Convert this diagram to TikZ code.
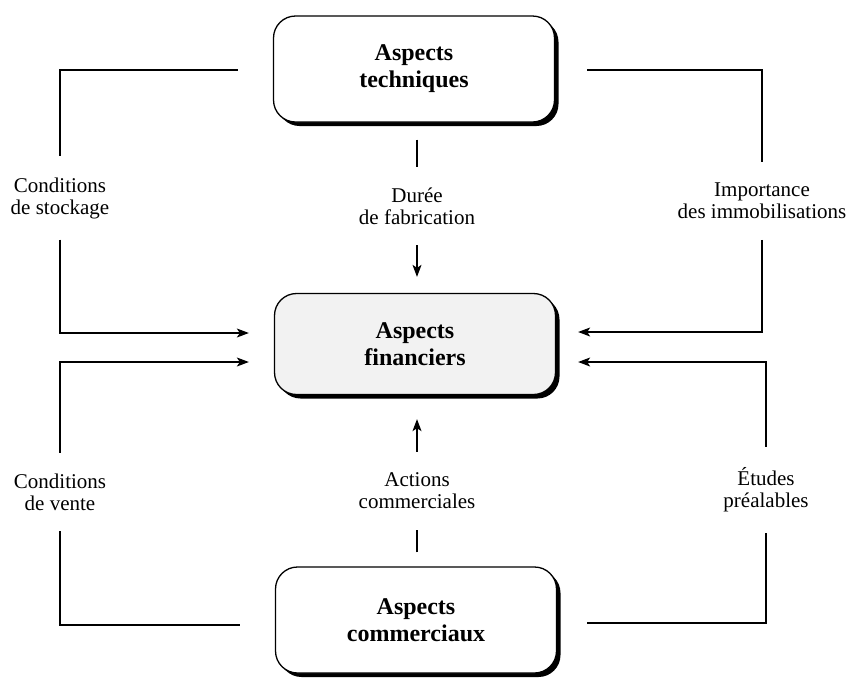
\documentclass[tikz,border=0pt]{standalone}
\usepackage{fontspec}
\setmainfont{Liberation Serif}
\usetikzlibrary{arrows.meta,shadows,calc}

\tikzset{
  aspect/.style={draw=black, line width=1.3pt, rounded corners=22pt, fill=white,
    minimum width=281pt, minimum height=106pt, align=center,
    font=\bfseries\fontsize{24}{27}\selectfont,
    drop shadow={shadow xshift=4pt, shadow yshift=-4pt, fill=black, opacity=1}},
  finbox/.style={aspect, fill=black!5},
  lbl/.style={align=center, inner sep=0pt, outer sep=21pt,
    font=\fontsize{21}{22}\selectfont},
  link/.style={line width=1.1pt},
  flow/.style={link, -{Stealth[length=12pt,width=9pt,inset=3pt]}}
}

\begin{document}
\begin{tikzpicture}[x=1pt, y=-1pt]
\useasboundingbox (0,0) rectangle (853,678);

% the three blocks
\node[aspect] (tech) at (414,69) {Aspects\\techniques};
\node[finbox, minimum height=101pt] (fin) at (415,344) {Aspects\\financiers};
\node[aspect] (com) at (416,620) {Aspects\\commerciaux};

% labels on the links
\node[lbl] (cs)  at (60,198)  {Conditions\\de stockage};
\node[lbl] (df)  at (417,206) {Durée\\de fabrication};
\node[lbl] (imm) at (762,201) {Importance\\des immobilisations};
\node[lbl] (cv)  at (60,492)  {Conditions\\de vente};
\node[lbl] (ac)  at (417,491) {Actions\\commerciales};
\node[lbl] (et)  at (766,490) {Études\\préalables};

% technical side
\draw[link] ($(tech.west)+(-35,1)$) -| (cs.north);
\draw[flow] (cs.south) |- ($(fin.west)+(-25,-11)$);
\draw[link] ($(tech.east)+(32,1)$) -| (imm.north);
\draw[flow] (imm.south) |- ($(fin.east)+(22,-12)$);
\draw[link, shorten <=17pt] (tech.south -| df.north) -- (df.north);
\draw[flow, shorten >=16pt] (df.south) -- (df.south |- fin.north);

% commercial side
\draw[flow] (cv.north) |- ($(fin.west)+(-25,18)$);
\draw[link] ($(com.west)+(-35,5)$) -| (cv.south);
\draw[flow] (et.north) |- ($(fin.east)+(22,18)$);
\draw[link] ($(com.east)+(30,3)$) -| (et.south);
\draw[flow, shorten >=24pt] (ac.north) -- (ac.north |- fin.south);
\draw[link, shorten <=14pt] (com.north -| ac.south) -- (ac.south);
\end{tikzpicture}
\end{document}
